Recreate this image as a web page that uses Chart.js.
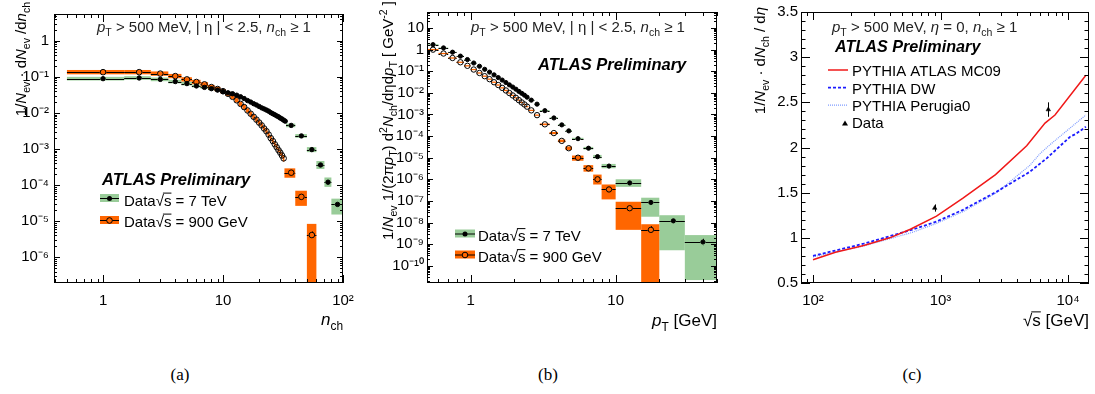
<!DOCTYPE html>
<html>
<head>
<meta charset="utf-8">
<title>ATLAS charged-particle distributions</title>
<script src="https://cdn.jsdelivr.net/npm/chart.js@4.4.1/dist/chart.umd.min.js"></script>
<style>
  html, body { margin: 0; padding: 0; background: #fff; }
  #page { position: relative; width: 1095px; height: 394px; overflow: hidden; }
  canvas { position: absolute; top: 0; }
  .cap { position: absolute; top: 365px; width: 60px; text-align: center; font: 17px "Liberation Serif", "DejaVu Serif", serif; color: #000; }
</style>
</head>
<body>
<div id="page">
  <canvas id="chart-a" width="365" height="345" style="left:0"></canvas>
  <canvas id="chart-b" width="365" height="345" style="left:365px"></canvas>
  <canvas id="chart-c" width="365" height="345" style="left:730px"></canvas>
  <div class="cap" style="left:150px">(a)</div>
  <div class="cap" style="left:518px">(b)</div>
  <div class="cap" style="left:882px">(c)</div>
</div>
<script>
const FONT = '"Liberation Sans", Arial, Helvetica, sans-serif';
const GREEN = '#99cc99';
const ORANGE = '#ff6600';

// (a) multiplicity distribution, 7 TeV
const nch7 = [1,2,3,4,5,6,7,8,9,10,11,12,13,14,15,16,17,18,19,20,21,22,23,24,25,26,27,28,29,30,31,32,33,37,45,55,65,75,90];
const nchEdges7 = [0.5,1.5,2.5,3.5,4.5,5.5,6.5,7.5,8.5,9.5,10.5,11.5,12.5,13.5,14.5,15.5,16.5,17.5,18.5,19.5,20.5,21.5,22.5,23.5,24.5,25.5,26.5,27.5,28.5,29.5,30.5,31.5,32.5,33.5,40,50,60,70,80,100];
const dist7 = [0.089,0.093,0.085,0.074,0.065,0.056,0.051,0.047,0.043,0.039,
  0.036,0.034,0.031,0.028,0.025,0.022,0.020,0.018,0.0166,0.0151,
  0.0138,0.0129,0.0120,0.0112,0.0102,0.0095,0.0089,0.0083,0.0078,0.0072,
  0.0068,0.0063,0.0059,0.0045,0.0023,0.00096,0.00036,0.00012,0.000029];
// systematic band half-heights in decades
const sysUpA7 = [0.05,0.05,0.05,0.05,0.05,0.04,0.04,0.04,0.03,0.03,
  0.03,0.03,0.03,0.03,0.03,0.03,0.03,0.03,0.03,0.03,
  0.03,0.03,0.03,0.03,0.03,0.03,0.03,0.03,0.03,0.03,
  0.03,0.03,0.03,0.05,0.05,0.07,0.11,0.13,0.16];
const sysDnA7 = [0.05,0.05,0.05,0.05,0.05,0.04,0.04,0.04,0.03,0.03,
  0.03,0.03,0.03,0.03,0.03,0.03,0.03,0.03,0.03,0.03,
  0.03,0.03,0.03,0.03,0.03,0.03,0.03,0.03,0.03,0.03,
  0.03,0.03,0.03,0.05,0.05,0.07,0.11,0.13,0.28];
const statA7 = [0,0,0,0,0,0,0,0,0,0, 0,0,0,0,0,0,0,0,0,0, 0,0,0,0,0,0,0,0,0,0, 0,0,0,0,0,0,0,0.02,0.05];

// (a) multiplicity distribution, 900 GeV
const nch9 = [1,2,3,4,5,6,7,8,9,10,11,12,13,14,15,16,17,18,19,20,21,22,23,24,25,26,27,28,29,30,31,32,37,45,55];
const nchEdges9 = [0.5,1.5,2.5,3.5,4.5,5.5,6.5,7.5,8.5,9.5,10.5,11.5,12.5,13.5,14.5,15.5,16.5,17.5,18.5,19.5,20.5,21.5,22.5,23.5,24.5,25.5,26.5,27.5,28.5,29.5,30.5,31.5,32.5,40,50,60];
const dist9 = [0.135,0.135,0.123,0.105,0.085,0.072,0.062,0.052,0.046,0.040,
  0.034,0.028,0.0224,0.0178,0.0145,0.0117,0.0095,0.0078,0.0065,0.0054,
  0.0045,0.0037,0.0031,0.0025,0.0020,0.00166,0.00135,0.00112,0.00093,0.00079,
  0.00066,0.00055,0.00022,0.000047,0.0000041];
const sysUpA9 = [0.06,0.06,0.06,0.06,0.06,0.06,0.06,0.06,0.06,0.06,
  0.06,0.06,0.06,0.06,0.06,0.06,0.06,0.06,0.06,0.06,
  0.06,0.06,0.06,0.06,0.06,0.06,0.06,0.06,0.06,0.07,
  0.08,0.09,0.12,0.17,0.31];
const sysDnA9 = [0.06,0.06,0.06,0.06,0.06,0.06,0.06,0.06,0.06,0.06,
  0.06,0.06,0.06,0.06,0.06,0.06,0.06,0.06,0.06,0.06,
  0.06,0.06,0.06,0.06,0.06,0.06,0.06,0.06,0.06,0.07,
  0.08,0.09,0.14,0.25,3];
const statA9 = [0,0,0,0,0,0,0,0,0,0, 0,0,0,0,0,0,0,0,0,0, 0,0,0,0,0,0,0,0,0,0, 0,0,0.03,0.05,0.10];

// (b) pT spectrum, 7 TeV
const pt7 = [0.55,0.65,0.75,0.85,0.95,1.05,1.15,1.25,1.35,1.45,1.55,1.65,1.75,1.85,1.95,2.05,2.15,2.25,2.35,2.45,
  2.62,2.87,3.25,3.75,4.25,4.75,5.5,6.5,7.5,9,12.5,17.5,25,40];
const ptEdges7 = [0.5,0.6,0.7,0.8,0.9,1.0,1.1,1.2,1.3,1.4,1.5,1.6,1.7,1.8,1.9,2.0,2.1,2.2,2.3,2.4,2.5,
  2.75,3,3.5,4,4.5,5,6,7,8,10,15,20,30,50];
const spec7 = [1.7,1.20,0.76,0.50,0.347,0.24,0.17,0.123,0.091,0.068,
  0.051,0.039,0.030,0.0234,0.0186,0.0148,0.0117,0.0095,0.0078,0.0063,
  0.0046,0.0030,0.0015,6.9e-4,3.3e-4,1.74e-4,7.6e-5,2.75e-5,1.12e-5,4.1e-6,
  6.8e-7,8.5e-8,1.2e-8,1.26e-9];
const sysUpB7 = [0.02,0.02,0.02,0.02,0.02,0.02,0.02,0.02,0.02,0.02,0.02,0.02,0.02,0.02,0.02,0.02,0.02,0.02,0.02,0.02,
  0.02,0.02,0.03,0.03,0.03,0.03,0.04,0.06,0.08,0.10,0.17,0.22,0.26,0.32];
const sysDnB7 = [0.02,0.02,0.02,0.02,0.02,0.02,0.02,0.02,0.02,0.02,0.02,0.02,0.02,0.02,0.02,0.02,0.02,0.02,0.02,0.02,
  0.02,0.02,0.03,0.03,0.03,0.03,0.04,0.06,0.08,0.10,0.18,0.66,1.36,1.76];
const statB7 = [0,0,0,0,0,0,0,0,0,0,0,0,0,0,0,0,0,0,0,0, 0,0,0,0,0,0,0,0,0,0,0.02,0.04,0.06,0.15];

// (b) pT spectrum, 900 GeV
const pt9 = [0.55,0.65,0.75,0.85,0.95,1.05,1.15,1.25,1.35,1.45,1.55,1.65,1.75,1.85,1.95,2.05,2.15,2.25,2.35,2.45,
  2.62,2.87,3.25,3.75,4.25,4.75,5.5,6.5,7.5,9,12.5,17.5];
const ptEdges9 = [0.5,0.6,0.7,0.8,0.9,1.0,1.1,1.2,1.3,1.4,1.5,1.6,1.7,1.8,1.9,2.0,2.1,2.2,2.3,2.4,2.5,
  2.75,3,3.5,4,4.5,5,6,7,8,10,15,20];
const spec9 = [1.0,0.66,0.41,0.26,0.178,0.12,0.083,0.059,0.043,0.031,
  0.023,0.017,0.0129,0.0098,0.0076,0.0059,0.0046,0.0036,0.0029,0.0023,
  0.00155,9.3e-4,3.5e-4,1.38e-4,6.0e-5,2.75e-5,1.0e-5,3.2e-6,1.0e-6,3.4e-7,4.6e-8,4.6e-9];
const sysUpB9 = [0.03,0.03,0.03,0.03,0.03,0.03,0.03,0.03,0.03,0.03,0.03,0.03,0.03,0.03,0.03,0.03,0.03,0.03,0.03,0.03,
  0.03,0.03,0.04,0.05,0.06,0.08,0.10,0.15,0.22,0.23,0.30,0.26];
const sysDnB9 = [0.03,0.03,0.03,0.03,0.03,0.03,0.03,0.03,0.03,0.03,0.03,0.03,0.03,0.03,0.03,0.03,0.03,0.03,0.03,0.03,
  0.03,0.03,0.04,0.05,0.06,0.08,0.14,0.15,0.24,0.46,1.0,4];
const statB9 = [0,0,0,0,0,0,0,0,0,0,0,0,0,0,0,0,0,0,0,0, 0,0,0,0,0,0,0,0,0,0,0.05,0.17];

// (c) central dNch/deta vs sqrt(s)
const sqrtsMC09 = [100,150,250,400,580,930,1500,2700,4740,6600,7900,13800];
const dndetaMC09 = [0.758,0.84,0.915,1.0,1.095,1.24,1.44,1.70,2.02,2.27,2.36,2.80];
const sqrtsDW = [100,250,600,930,1500,2750,5000,6800,10400,11500,13800];
const dndetaDW = [0.80,0.935,1.09,1.18,1.31,1.51,1.73,1.88,2.12,2.15,2.23];
const sqrtsP0 = [100,250,600,930,1500,2750,5000,6000,7200,13800];
const dndetaP0 = [0.79,0.91,1.06,1.16,1.29,1.50,1.80,1.93,2.03,2.36];
const sqrtsData = [900, 7000];
const dndetaData = [1.33, 2.42];
const errData = [0.04, 0.08];

const SUP = {'-':'\u207b','0':'\u2070','1':'\u00b9','2':'\u00b2','3':'\u00b3','4':'\u2074','5':'\u2075','6':'\u2076','7':'\u2077','8':'\u2078','9':'\u2079'};
function decadeLabel(v) {
  const e = Math.round(Math.log10(v));
  if (e === 0) return '1';
  if (e === 1) return '10';
  return '10' + String(e).split('').map(c => SUP[c]).join('');
}
const pts = (xs, ys) => xs.map((x, i) => ({x, y: ys[i]}));

// text with italic / sub / superscript pieces
function rich(ctx, parts, x, y, size, opt = {}) {
  const align = opt.align || 'left';
  ctx.save();
  ctx.translate(x, y);
  if (opt.rot) ctx.rotate(opt.rot);
  ctx.fillStyle = opt.color || '#000';
  ctx.textBaseline = 'alphabetic';
  ctx.textAlign = 'left';
  const fontOf = st => {
    const small = st.includes('_') || st.includes('^');
    return (st.includes('i') ? 'italic ' : '') + (st.includes('b') ? 'bold ' : '') + (small ? size * 0.7 : size) + 'px ' + FONT;
  };
  let total = 0;
  parts.forEach(([t, st]) => { ctx.font = fontOf(st); total += ctx.measureText(t).width; });
  let cx = align === 'right' ? -total : align === 'center' ? -total / 2 : 0;
  parts.forEach(([t, st]) => {
    ctx.font = fontOf(st);
    const dy = st.includes('_') ? size * 0.28 : st.includes('^') ? -size * 0.42 : 0;
    ctx.fillText(t, cx, dy);
    const w = ctx.measureText(t).width;
    if (st.includes('o')) ctx.fillRect(cx - 1, -size * 0.86, w + 1, 1);
    cx += w;
  });
  ctx.restore();
}

function tickValues(scale) {
  const out = [];
  if (scale.type === 'logarithmic') {
    for (let d = Math.floor(Math.log10(scale.min)); d <= Math.ceil(Math.log10(scale.max)); d++) {
      for (let k = 1; k <= 9; k++) {
        const v = k * Math.pow(10, d);
        if (v >= scale.min * 0.999 && v <= scale.max * 1.001) out.push([v, k === 1]);
      }
    }
  } else {
    for (let i = Math.ceil(scale.min * 10 - 1e-6); i <= scale.max * 10 + 1e-6; i++) out.push([i / 10, i % 5 === 0]);
  }
  return out;
}

// ROOT style frame with inward ticks on all four sides
function frameTicks(xLen, yLen) {
  return {
    id: 'frameTicks',
    afterDatasetsDraw(chart) {
      const {ctx, chartArea: a, scales: {x, y}} = chart;
      ctx.save();
      ctx.strokeStyle = '#000';
      ctx.lineWidth = 1;
      ctx.strokeRect(a.left + 0.5, a.top + 0.5, a.right - a.left - 1, a.bottom - a.top - 1);
      ctx.beginPath();
      tickValues(x).forEach(([v, major]) => {
        const px = Math.round(x.getPixelForValue(v)) + 0.5;
        const l = major ? xLen[0] : xLen[1];
        ctx.moveTo(px, a.bottom); ctx.lineTo(px, a.bottom - l);
        ctx.moveTo(px, a.top); ctx.lineTo(px, a.top + l);
      });
      tickValues(y).forEach(([v, major]) => {
        const py = Math.round(y.getPixelForValue(v)) + 0.5;
        const l = major ? yLen[0] : yLen[1];
        ctx.moveTo(a.left, py); ctx.lineTo(a.left + l, py);
        ctx.moveTo(a.right, py); ctx.lineTo(a.right - l, py);
      });
      ctx.stroke();
      ctx.restore();
    }
  };
}

// systematic boxes + horizontal/vertical error bars
const bands = {
  id: 'bands',
  beforeDatasetsDraw(chart) {
    const {ctx, chartArea: a, scales: {x, y}} = chart;
    ctx.save();
    ctx.beginPath();
    ctx.rect(a.left, a.top, a.right - a.left, a.bottom - a.top);
    ctx.clip();
    chart.data.datasets.forEach(ds => {
      if (!ds.edges) return;
      ctx.fillStyle = ds.band;
      ds.data.forEach((p, i) => {
        const x0 = x.getPixelForValue(ds.edges[i]), x1 = x.getPixelForValue(ds.edges[i + 1]);
        const y0 = y.getPixelForValue(p.y * Math.pow(10, ds.sysUp[i]));
        const y1 = y.getPixelForValue(p.y / Math.pow(10, ds.sysDn[i]));
        ctx.fillRect(x0, y0, x1 - x0, y1 - y0);
      });
    });
    ctx.strokeStyle = '#000';
    ctx.lineWidth = 1;
    chart.data.datasets.forEach(ds => {
      if (!ds.edges) return;
      const r = ds.pointRadius + 0.5;
      ds.data.forEach((p, i) => {
        const px = x.getPixelForValue(p.x), py = Math.round(y.getPixelForValue(p.y)) + 0.5;
        const x0 = x.getPixelForValue(ds.edges[i]), x1 = x.getPixelForValue(ds.edges[i + 1]);
        ctx.beginPath();
        if (px - r > x0) { ctx.moveTo(x0, py); ctx.lineTo(px - r, py); }
        if (x1 > px + r) { ctx.moveTo(px + r, py); ctx.lineTo(x1, py); }
        const s = ds.stat[i];
        if (s > 0) {
          const yt = y.getPixelForValue(p.y * Math.pow(10, s)), yb = y.getPixelForValue(p.y / Math.pow(10, s));
          const cx = Math.round(px) + 0.5;
          if (py - r > yt) { ctx.moveTo(cx, yt); ctx.lineTo(cx, py - r); }
          if (yb > py + r) { ctx.moveTo(cx, py + r); ctx.lineTo(cx, yb); }
        }
        ctx.stroke();
      });
    });
    ctx.restore();
  }
};

const vbars = {
  id: 'vbars',
  afterDatasetsDraw(chart) {
    const {ctx, scales: {x, y}} = chart;
    ctx.save();
    ctx.strokeStyle = '#000';
    ctx.lineWidth = 1;
    chart.data.datasets.forEach(ds => {
      if (!ds.err) return;
      ds.data.forEach((p, i) => {
        const px = Math.round(x.getPixelForValue(p.x)) + 0.5;
        ctx.beginPath();
        ctx.moveTo(px, y.getPixelForValue(p.y + ds.err[i]));
        ctx.lineTo(px, y.getPixelForValue(p.y - ds.err[i]));
        ctx.stroke();
      });
    });
    ctx.restore();
  }
};

function overlay(draw) {
  return { id: 'overlay', afterDraw(chart) { const ctx = chart.ctx; ctx.save(); draw(ctx); ctx.restore(); } };
}

function legendBand(ctx, x0, x1, yc, color, hollow) {
  ctx.fillStyle = color;
  ctx.fillRect(x0, yc - 4, x1 - x0, 8);
  const xm = (x0 + x1) / 2;
  ctx.strokeStyle = '#000';
  ctx.lineWidth = 1;
  ctx.beginPath();
  ctx.moveTo(x0, yc + 0.5); ctx.lineTo(x1, yc + 0.5);
  ctx.stroke();
  ctx.beginPath();
  ctx.arc(xm, yc + 0.5, hollow ? 2.8 : 2.5, 0, Math.PI * 2);
  if (hollow) { ctx.fillStyle = color; ctx.fill(); ctx.stroke(); }
  else { ctx.fillStyle = '#000'; ctx.fill(); }
}

const tickFont = {family: FONT, size: 15};
function logAxis(min, max, ticks, size, pad, fit) {
  return {
    type: 'logarithmic', min, max,
    afterBuildTicks: s => { s.ticks = ticks.map(value => ({value})); },
    afterFit: fit,
    ticks: {callback: v => decadeLabel(v), font: tickFont, color: '#000', padding: pad, autoSkip: false, maxRotation: 0},
    grid: {display: false, drawTicks: false},
    border: {display: false}
  };
}
const baseOpts = (padding, scales) => ({
  responsive: false, animation: false, devicePixelRatio: 1,
  layout: {padding},
  plugins: {legend: {display: false}, tooltip: {enabled: false}},
  scales
});

const HEADER = [['p','i'],['T','_'],[' > 500 MeV, | \u03b7 | < 2.5, ',''],['n','i'],['ch','_'],[' \u2265 1','']];
const LEG7 = [['Data',''],['\u221a',''],['s','o'],[' = 7 TeV','']];
const LEG9 = [['Data',''],['\u221a',''],['s','o'],[' = 900 GeV','']];

// ---------- (a)
new Chart(document.getElementById('chart-a'), {
  type: 'scatter',
  data: {datasets: [
    {data: pts(nch7, dist7), edges: nchEdges7, sysUp: sysUpA7, sysDn: sysDnA7, stat: statA7, band: GREEN,
     pointRadius: 2.2, pointBorderWidth: 1, pointBackgroundColor: '#000', pointBorderColor: '#000'},
    {data: pts(nch9, dist9), edges: nchEdges9, sysUp: sysUpA9, sysDn: sysDnA9, stat: statA9, band: ORANGE,
     pointRadius: 2.8, pointBorderWidth: 1, pointBackgroundColor: 'rgba(0,0,0,0)', pointBorderColor: '#000'}
  ]},
  options: baseOpts({left: 0, right: 22, top: 2, bottom: 0}, {
    x: logAxis(0.39, 100, [1, 10, 100], 15, 9, s => { s.height = 62; }),
    y: logAxis(1.92e-7, 5.53, [1e-6, 1e-5, 1e-4, 1e-3, 1e-2, 1e-1, 1], 15, 5, s => { s.width = 54; })
  }),
  plugins: [bands, frameTicks([8, 4], [6, 3]), overlay(ctx => {
    rich(ctx, [['1/',''],['N','i'],['ev','_'],[' \u00b7 d',''],['N','i'],['ev','_'],[' /d',''],['n','i'],['ch','_']], 26, 2, 15, {align: 'right', rot: -Math.PI / 2});
    rich(ctx, [['n','i'],['ch','_']], 343, 325, 17, {align: 'right'});
    rich(ctx, HEADER, 97, 32, 15, {color: '#222'});
    rich(ctx, [['ATLAS Preliminary','bi']], 102, 185, 16.5);
    legendBand(ctx, 100, 119, 198, GREEN, false);
    rich(ctx, LEG7, 124, 205.5, 15);
    legendBand(ctx, 100, 119, 220, ORANGE, true);
    rich(ctx, LEG9, 124, 226.5, 15);
  })]
});

// ---------- (b)
new Chart(document.getElementById('chart-b'), {
  type: 'scatter',
  data: {datasets: [
    {data: pts(pt7, spec7), edges: ptEdges7, sysUp: sysUpB7, sysDn: sysDnB7, stat: statB7, band: GREEN,
     pointRadius: 2.1, pointBorderWidth: 1, pointBackgroundColor: '#000', pointBorderColor: '#000'},
    {data: pts(pt9, spec9), edges: ptEdges9, sysUp: sysUpB9, sysDn: sysDnB9, stat: statB9, band: ORANGE,
     pointRadius: 2.7, pointBorderWidth: 1, pointBackgroundColor: 'rgba(0,0,0,0)', pointBorderColor: '#000'}
  ]},
  options: baseOpts({left: 0, right: 13, top: 3, bottom: 0}, {
    x: logAxis(0.5, 50, [1, 10], 15, 9, s => { s.height = 62; }),
    y: logAxis(1.6e-11, 55, [1e-10, 1e-9, 1e-8, 1e-7, 1e-6, 1e-5, 1e-4, 1e-3, 1e-2, 1e-1, 1, 10], 15, 3, s => { s.width = 62; })
  }),
  plugins: [bands, frameTicks([8, 4], [6, 3]), overlay(ctx => {
    rich(ctx, [['1/',''],['N','i'],['ev','_'],[' 1/(2\u03c0',''],['p','i'],['T','_'],[') d',''],['2','^'],['N','i'],['ch','_'],
      ['/d\u03b7d',''],['p','i'],['T','_'],[' [ GeV',''],['-2','^'],[' ]','']], 28, 1, 15, {align: 'right', rot: -Math.PI / 2});
    rich(ctx, [['p','i'],['T','_'],[' [GeV]','']], 352, 326, 17, {align: 'right'});
    rich(ctx, HEADER, 106, 32, 15, {color: '#222'});
    rich(ctx, [['ATLAS Preliminary','bi']], 173, 69.5, 16.5);
    legendBand(ctx, 90, 110, 233.5, GREEN, false);
    rich(ctx, LEG7, 113, 241, 15);
    legendBand(ctx, 90, 110, 254.5, ORANGE, true);
    rich(ctx, LEG9, 113, 262, 15);
  })]
});

// ---------- (c)
new Chart(document.getElementById('chart-c'), {
  type: 'scatter',
  data: {datasets: [
    {data: pts(sqrtsData, dndetaData), err: errData, pointStyle: 'triangle', pointRadius: 2.6,
     pointBackgroundColor: '#000', pointBorderColor: '#000', pointBorderWidth: 0.5},
    {data: pts(sqrtsMC09, dndetaMC09), showLine: true, pointRadius: 0, borderColor: '#f01818', borderWidth: 1.5, tension: 0},
    {data: pts(sqrtsDW, dndetaDW), showLine: true, pointRadius: 0, borderColor: '#1c1cff', borderWidth: 1.8, borderDash: [3, 2], tension: 0},
    {data: pts(sqrtsP0, dndetaP0), showLine: true, pointRadius: 0, borderColor: '#7f9cff', borderWidth: 1.2, borderDash: [1, 1], tension: 0}
  ]},
  options: baseOpts({left: 0, right: 6, top: 7, bottom: 0}, {
    x: logAxis(80.5, 14600, [100, 1000, 10000], 15, 9, s => { s.height = 62; }),
    y: {
      type: 'linear', min: 0.5, max: 3.5,
      afterFit: s => { s.width = 71; },
      ticks: {stepSize: 0.5, font: tickFont, color: '#000', padding: 3, callback: v => String(Math.round(v * 10) / 10)},
      grid: {display: false, drawTicks: false},
      border: {display: false}
    }
  }),
  plugins: [vbars, frameTicks([8, 4], [9, 4.5]), overlay(ctx => {
    rich(ctx, [['1/',''],['N','i'],['ev','_'],[' \u00b7 d',''],['N','i'],['ch','_'],[' / d',''],['\u03b7','i']], 35, 7, 15, {align: 'right', rot: -Math.PI / 2});
    rich(ctx, [['\u221a',''],['s','o'],[' [GeV]','']], 359, 326, 17, {align: 'right'});
    rich(ctx, [['p','i'],['T','_'],[' > 500 MeV, ',''],['\u03b7','i'],[' = 0, ',''],['n','i'],['ch','_'],[' \u2265 1','']], 102, 31.7, 15, {color: '#222'});
    rich(ctx, [['ATLAS Preliminary','bi']], 105, 51.7, 16.2);
    const leg = [['PYTHIA ATLAS MC09', '#f01818', 1.5, []], ['PYTHIA DW', '#1c1cff', 1.8, [3, 2]], ['PYTHIA Perugia0', '#7f9cff', 1.2, [1, 1]]];
    leg.forEach(([label, color, w, dash], i) => {
      const yc = 70 + i * 17.6;
      ctx.strokeStyle = color; ctx.lineWidth = w; ctx.setLineDash(dash);
      ctx.beginPath(); ctx.moveTo(98, yc); ctx.lineTo(118, yc); ctx.stroke();
      ctx.setLineDash([]);
      rich(ctx, [[label, '']], 122, yc + 6, 15);
    });
    ctx.fillStyle = '#000';
    ctx.beginPath(); ctx.moveTo(115, 120.5); ctx.lineTo(118, 125.5); ctx.lineTo(112, 125.5); ctx.closePath(); ctx.fill();
    rich(ctx, [['Data', '']], 122, 128, 15);
  })]
});
</script>
</body>
</html>
